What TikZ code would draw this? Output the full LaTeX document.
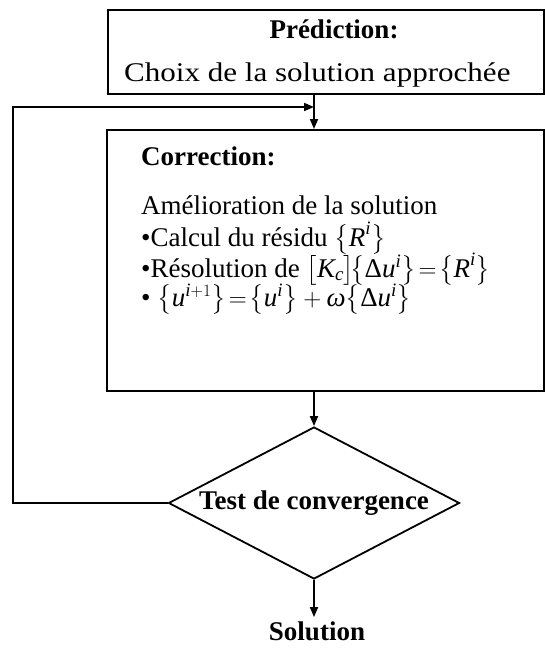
\documentclass[tikz,border=0pt]{standalone}
\usepackage{amsmath}
\usepackage{fontspec}
\setmainfont{Liberation Serif}
\usetikzlibrary{shapes.geometric, arrows.meta, positioning}

\newcommand{\accol}[1]{\bigl\{#1\bigr\}}
\newcommand{\crochet}[1]{\bigl[#1\bigr]}
\newcommand{\vi}[1]{\textit{#1}}

\begin{document}
\begin{tikzpicture}[x=1pt, y=-1pt,
  box/.style={draw, line width=1.8pt, inner sep=0pt},
  txt/.style={font=\fontsize{27}{32}\selectfont, inner sep=0pt, anchor=base west},
  titre/.style={font=\fontsize{27}{32}\selectfont\bfseries, inner sep=0pt, anchor=base},
  fleche/.style={line width=1.8pt, -{Triangle[length=10pt,width=8pt]}}]
\useasboundingbox (0,0) rectangle (544,648);

% Prediction
\node[box, minimum width=436pt, minimum height=84pt, anchor=north west] (pred) at (107,9) {};
\node[titre] (predtitre) at (334,38) {Prédiction:};
\node[txt] (predtxt) at (124,81) {\scalebox{1.15}[1]{Choix de la solution approchée}};

% Correction
\node[box, minimum width=437pt, minimum height=261pt, anchor=north west] (corr) at (106,129) {};
\node[titre, anchor=base west] (corrtitre) at (141,165) {Correction:};
\foreach \i/\y/\ligne in {1/214/{Amélioration de la solution},
    2/246/{•Calcul du résidu $\accol{\vi{R}^{\vi{i}}}$},
    3/277/{•Résolution de $\crochet{\vi{K}_{\vi{c}}}\!\accol{\textup{Δ}\vi{u}^{\vi{i}}}\!=\!\accol{\vi{R}^{\vi{i}}}$},
    4/306/{•\ $\accol{\vi{u}^{\vi{i}+1}}\!=\!\accol{\vi{u}^{\vi{i}}}+\vi{ω}\accol{\textup{Δ}\vi{u}^{\vi{i}}}$}} {
    \node[txt] (ligne\i) at (141,\y) {\ligne};
}

% Test
\node[draw, diamond, aspect=2, line width=1.8pt, minimum width=291pt, minimum height=152pt, inner sep=0pt,
  font=\fontsize{27}{32}\selectfont\bfseries] (test) at (314,503) {Test de convergence};
\node[titre, inner sep=4pt] (sol) at (317,640) {Solution};

% Liaisons
\coordinate (coin) at (13,107);
\coordinate (jonction) at (314,107);
\draw[fleche] (pred.south -| test.north) -- (corr.north -| test.north);
\draw[fleche] (test.west) -| (coin) -- (jonction);
\draw[fleche] (corr.south -| test.north) -- (test.north);
\draw[fleche] (test.south) -- (sol.north -| test.south);

\end{tikzpicture}
\end{document}
